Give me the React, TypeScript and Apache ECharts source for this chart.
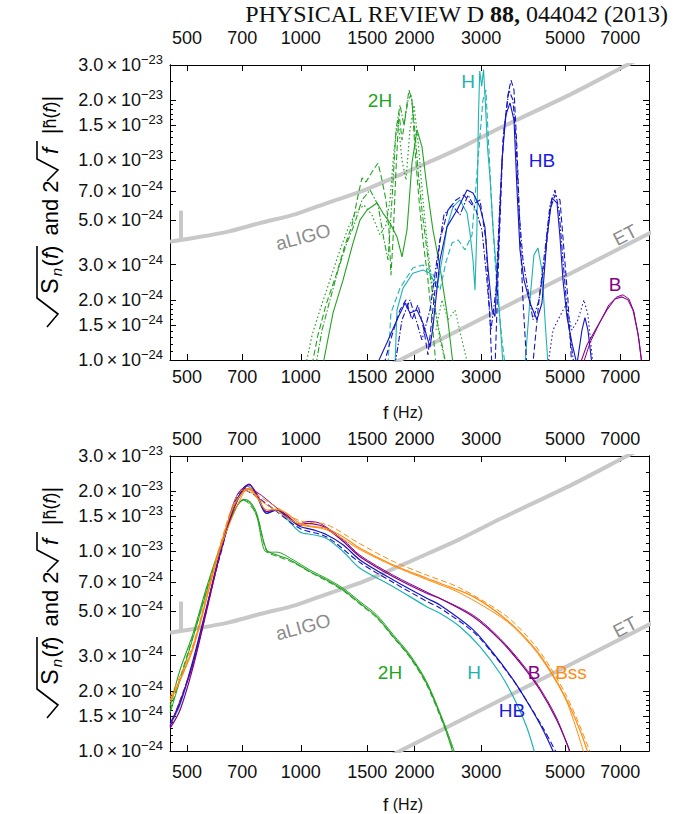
import React, { useEffect, useRef } from "react";
import * as echarts from "echarts";

const SANS = "'Liberation Sans', Arial, Helvetica, sans-serif";
const SERIF = "'Liberation Serif', 'Times New Roman', serif";

// axis ticks (frequency in Hz, amplitude in units of 1e-24)
const X_TICKS = [500, 700, 1000, 1500, 2000, 3000, 5000, 7000];
const Y_TICKS = [1, 1.5, 2, 3, 5, 7, 10, 15, 20, 30];
const Y_MINOR = [1.1, 1.2, 1.3, 1.4, 1.6, 1.7, 1.8, 1.9, 2.5, 4, 6, 8, 9, 11, 12, 13, 14, 16, 17, 18, 19, 25];
const F_MIN = 450.8;
const F_MAX = 8342;
const A_MIN = 1;
const A_MAX = 30;

// detector noise curves
const ALIGO_F = [451, 519, 638, 780, 971, 1173, 1434, 1754, 2157, 2637, 3365, 5250, 7294, 8342];
const ALIGO_V = [3.91, 4.08, 4.38, 4.85, 5.38, 6.11, 6.94, 8.16, 9.69, 11.5, 14.5, 21.7, 30.0, 34.1];
const SPIKE_F = [482, 482];
const SPIKE_V = [3.97, 5.6];
const ET_F = [1500, 9000];
const ET_V = [0.826, 4.62];

// ---------- top panel ----------
const T_2H_A_F = [1145, 1217, 1294, 1375, 1434, 1497, 1591, 1650, 1722, 1797, 1853, 1910, 1969, 2030, 2092, 2156, 2237, 2335, 2437, 2528];
const T_2H_A_V = [0.95, 1.72, 2.52, 3.86, 5.02, 5.64, 6.11, 5.44, 4.85, 4.13, 3.28, 4.48, 9.69, 14.2, 11.7, 7.35, 4.48, 2.92, 1.72, 0.95];
const T_2H_B_F = [1071, 1110, 1166, 1240, 1310, 1367, 1418, 1452, 1488, 1543, 1601, 1640, 1680, 1711, 1732, 1754, 1786, 1819, 1853, 1887, 1933, 1969, 2005, 2055, 2105, 2170, 2224, 2278];
const T_2H_B_V = [0.95, 1.33, 1.89, 2.66, 3.77, 4.74, 6.70, 8.16, 7.78, 8.74, 9.69, 7.97, 6.33, 4.48, 2.66, 3.99, 8.94, 17.3, 12.6, 16.3, 22.5, 20.0, 11.3, 6.33, 3.99, 2.52, 1.59, 0.95];
const T_2H_C_F = [1032, 1071, 1124, 1195, 1270, 1334, 1401, 1470, 1543, 1620, 1680, 1722, 1765, 1808, 1853, 1898, 1945, 1993, 2042, 2105, 2170, 2251, 2335, 2422];
const T_2H_C_V = [0.95, 1.33, 1.78, 2.52, 3.56, 4.58, 5.51, 5.97, 5.32, 4.23, 4.74, 6.33, 11.3, 15.9, 10.0, 7.97, 14.2, 18.9, 12.6, 6.33, 3.56, 2.00, 1.26, 0.95];
const T_2H_D_F = [1097, 1138, 1195, 1255, 1318, 1384, 1452, 1525, 1601, 1660, 1701, 1743, 1786, 1830, 1875, 1922, 1957, 1993, 2042, 2092, 2156, 2224, 2292, 2364, 2422];
const T_2H_D_V = [0.95, 1.41, 2.00, 2.82, 3.77, 4.74, 6.33, 7.10, 5.97, 3.99, 3.17, 6.33, 14.2, 18.9, 15.0, 20.0, 21.2, 15.9, 8.94, 5.64, 3.56, 2.24, 1.59, 1.19, 0.95];
const T_2H_E_F = [2278, 2364, 2452, 2559, 2669, 2767];
const T_2H_E_V = [1.41, 2.00, 1.59, 1.78, 1.26, 0.95];

const T_H_A_F = [1776, 1797, 1864, 1979, 2105, 2197, 2292, 2364, 2437, 2528, 2637, 2753, 2803, 2855, 2890, 2925, 2950, 2975, 3010, 3045, 3080, 3120, 3166, 3224, 3304, 3365, 3427];
const T_H_A_V = [0.95, 1.78, 2.29, 2.72, 2.82, 2.72, 2.29, 3.17, 4.64, 5.84, 6.33, 5.44, 4.33, 3.17, 2.24, 4.64, 16.0, 28.0, 23.5, 28.5, 19.0, 11.5, 8.25, 4.64, 2.61, 1.59, 0.95];
const T_H_B_F = [1701, 1732, 1830, 1979, 2105, 2224, 2335, 2422, 2513, 2610, 2719, 2838, 2943, 3033, 3089, 3146, 3205, 3264, 3324, 3406, 3469];
const T_H_B_V = [0.95, 1.72, 2.29, 2.89, 2.99, 2.75, 2.24, 3.10, 3.86, 3.99, 3.56, 4.23, 10.0, 20.0, 22.5, 11.3, 5.64, 3.17, 2.00, 1.26, 0.95];
const T_H_C_F = [3919, 4040, 4139, 4241, 4346, 4427, 4509];
const T_H_C_V = [0.95, 2.00, 3.36, 3.64, 2.82, 1.59, 0.95];

const T_HB_A_F = [1591, 1690, 1797, 1887, 1945, 2030, 2105, 2197, 2237, 2335, 2437, 2591, 2753, 2855, 2979, 3070, 3127, 3205, 3264, 3324, 3406, 3490, 3577, 3665, 3733, 3801, 3895, 4040, 4215, 4346, 4481, 4620, 4763, 4850, 4939, 5060, 5216, 5378, 5545, 5647, 5751, 5893];
const T_HB_A_V = [0.95, 1.22, 1.59, 1.93, 1.72, 1.78, 1.53, 1.16, 1.46, 3.17, 4.64, 5.64, 7.10, 6.86, 5.84, 4.64, 2.92, 1.78, 1.65, 3.17, 10.0, 16.9, 19.4, 15.9, 7.10, 3.56, 2.52, 1.93, 1.59, 1.93, 4.13, 6.48, 6.11, 4.13, 2.52, 1.65, 1.22, 0.95, 1.41, 1.63, 1.41, 0.95];
const T_HB_B_F = [1660, 1743, 1830, 1898, 1969, 2042, 2118, 2170, 2251, 2335, 2452, 2575, 2702, 2838, 2979, 3089, 3166, 3205, 3264, 3344, 3427, 3533, 3599, 3665, 3733, 3801, 3871, 3967, 4100, 4268, 4427, 4564, 4705, 4850, 4969, 5091, 5216];
const T_HB_B_V = [0.95, 1.33, 1.78, 2.00, 1.59, 1.89, 1.41, 1.06, 2.00, 3.99, 5.64, 6.33, 6.70, 5.97, 6.33, 3.99, 1.59, 0.9, 0.9, 3.56, 12.6, 21.2, 25.2, 22.5, 11.3, 4.48, 2.00, 0.9, 0.9, 2.00, 3.17, 5.64, 6.70, 6.33, 3.56, 2.00, 0.9];
const T_HB_C_F = [1776, 1853, 1945, 2018, 2092, 2197, 2292, 2392, 2513, 2637, 2770, 2907, 3015, 3108, 3185, 3284, 3365, 3448, 3555, 3643, 3710, 3778, 3871, 3991, 4114, 4268, 4427, 4564, 4705, 4821, 4939, 5091, 5280];
const T_HB_C_V = [0.95, 1.59, 2.00, 1.59, 1.26, 1.78, 3.17, 5.32, 5.97, 5.32, 6.70, 5.64, 4.48, 2.52, 1.41, 2.24, 6.33, 14.2, 22.5, 20.0, 12.6, 5.64, 3.17, 2.24, 1.59, 2.00, 3.56, 5.97, 7.10, 5.64, 3.17, 1.59, 0.95];
const T_HB_D_F = [4509, 4648, 4792, 5030, 5216, 5411, 5613, 5751, 5929];
const T_HB_D_V = [0.95, 1.41, 1.59, 1.89, 1.41, 1.59, 2.00, 1.68, 0.95];

const T_B_A_F = [5478, 5716, 6075, 6455, 6777, 7075, 7339, 7566, 7800, 7991];
const T_B_A_V = [0.95, 1.19, 1.46, 1.78, 2.02, 2.07, 2.00, 1.78, 1.36, 0.95];
const T_B_B_F = [5579, 5822, 6188, 6534, 6860, 7119, 7384, 7612, 7848, 7991];
const T_B_B_V = [0.95, 1.22, 1.55, 1.89, 2.07, 2.12, 2.02, 1.74, 1.26, 0.95];

// ---------- bottom panel ----------
const B_BSS_F = [451, 479, 519, 564, 612, 663, 705, 730, 764, 812, 864, 917, 995, 1080, 1171, 1296, 1434, 1757, 2153, 2335, 2860, 3507, 4122, 4564, 5052, 5478, 5762];
const B_BSS_V = [1.80, 2.27, 3.33, 5.93, 10.55, 16.7, 19.9, 20.7, 18.8, 16.1, 16.2, 15.5, 13.8, 13.3, 13.0, 11.8, 10.35, 8.54, 7.33, 6.92, 5.93, 4.53, 3.33, 2.54, 1.80, 1.27, 0.97];
const B_BSS2_F = [451, 519, 612, 705, 764, 864, 995, 1171, 1434, 1757, 2153, 2637, 3507, 4122, 4564, 5052, 5478, 5850];
const B_BSS2_V = [1.86, 3.42, 10.8, 20.3, 19.1, 16.6, 14.2, 13.6, 10.9, 8.9, 7.6, 6.55, 4.72, 3.46, 2.64, 1.88, 1.33, 0.97];
const B_BSS3_F = [451, 519, 612, 705, 730, 764, 864, 995, 1171, 1434, 1757, 2153, 2637, 3507, 4122, 4564, 5052, 5620];
const B_BSS3_V = [1.75, 3.25, 10.3, 19.6, 20.4, 18.5, 15.9, 13.6, 12.8, 10.2, 8.45, 7.22, 6.18, 4.46, 3.28, 2.50, 1.77, 0.97];

const B_B_F = [451, 479, 519, 564, 612, 663, 705, 730, 764, 812, 864, 917, 995, 1037, 1124, 1171, 1296, 1434, 1757, 2153, 2335, 2860, 3365, 3879, 4294, 4754, 5101, 5160];
const B_B_V = [1.30, 1.60, 2.64, 5.08, 9.77, 16.1, 20.3, 21.5, 19.5, 15.8, 16.2, 15.2, 13.5, 13.8, 13.5, 13.0, 11.2, 9.40, 7.46, 6.16, 5.80, 4.70, 3.60, 2.64, 2.02, 1.43, 1.05, 0.97];
const B_B2_F = [451, 519, 612, 705, 764, 864, 995, 1037, 1124, 1296, 1434, 1757, 2153, 2860, 3365, 3879, 4294, 4754, 5160];
const B_B2_V = [1.34, 2.72, 9.95, 20.6, 19.8, 16.5, 13.7, 14.1, 13.8, 11.4, 9.55, 7.58, 6.25, 4.78, 3.66, 2.69, 2.06, 1.46, 0.98];

const B_HB_F = [451, 479, 519, 564, 612, 663, 705, 730, 764, 812, 864, 917, 995, 1080, 1171, 1296, 1434, 1757, 2153, 2335, 2860, 3231, 3649, 4040, 4380, 4680];
const B_HB_V = [1.38, 1.73, 2.86, 5.28, 9.77, 16.4, 20.7, 21.7, 19.1, 15.5, 16.1, 14.9, 13.3, 12.8, 12.1, 10.75, 9.05, 7.18, 5.82, 5.38, 4.04, 3.09, 2.27, 1.67, 1.27, 0.97];
const B_HB2_F = [451, 519, 612, 705, 764, 864, 995, 1171, 1434, 1757, 2153, 2335, 2860, 3231, 3649, 4040, 4380, 4760];
const B_HB2_V = [1.32, 2.76, 9.5, 20.4, 18.8, 15.8, 13.0, 11.8, 8.78, 6.98, 5.62, 5.2, 3.95, 3.05, 2.26, 1.68, 1.30, 0.97];

const B_H_F = [451, 479, 519, 564, 612, 663, 705, 722, 764, 812, 864, 917, 995, 1080, 1171, 1296, 1434, 1757, 2153, 2335, 2637, 2979, 3365, 3649, 3960, 4165];
const B_H_V = [1.35, 1.70, 2.80, 5.28, 9.77, 16.4, 20.7, 21.2, 19.1, 15.5, 16.1, 14.6, 12.5, 12.1, 11.6, 9.95, 8.22, 6.65, 5.28, 4.89, 4.19, 3.33, 2.45, 1.87, 1.32, 0.97];

const B_2H_F = [451, 479, 519, 564, 612, 663, 705, 734, 764, 812, 864, 917, 955, 1058, 1171, 1296, 1434, 1588, 1757, 1945, 2153, 2383, 2532];
const B_2H_V = [1.67, 2.54, 3.88, 6.65, 10.55, 15.5, 18.2, 17.7, 15.5, 10.15, 9.58, 9.22, 8.87, 7.91, 7.18, 6.40, 5.49, 4.70, 3.74, 2.97, 2.18, 1.38, 0.97];
const B_2H2_F = [451, 519, 612, 705, 734, 764, 812, 864, 955, 1058, 1171, 1296, 1434, 1588, 1757, 1945, 2153, 2383, 2560];
const B_2H2_V = [1.55, 3.70, 10.2, 18.0, 17.4, 15.0, 9.9, 9.9, 9.05, 8.05, 7.30, 6.52, 5.60, 4.80, 3.82, 3.03, 2.22, 1.41, 0.97];
const B_2H3_F = [451, 519, 612, 705, 764, 812, 864, 955, 1058, 1171, 1296, 1434, 1588, 1757, 1945, 2153, 2383, 2550];
const B_2H3_V = [1.60, 3.78, 10.4, 18.1, 15.2, 10.0, 9.45, 8.78, 7.85, 7.10, 6.33, 5.43, 4.64, 3.70, 2.93, 2.14, 1.36, 0.97];

// colours
const GREEN = "#22a322";
const CYAN = "#1fb2b2";
const BLUE = "#1414c8";
const PURPLE = "#880088";
const ORANGE = "#ff8c10";
const GRAY = "#c8c8c8";

const DASH = [6, 3];
const DOT = [1.5, 2.5];
const DASHDOT = [6, 2, 1.5, 2];

const L = Math.log10;
const pairs = (F: number[], V: number[]) => F.map((f, i) => [L(f), L(V[i])]);

function line(F: number[], V: number[], color: string, width: number, dash: any, g: number, extra: any = {}) {
  return {
    type: "line",
    xAxisIndex: g * 2,
    yAxisIndex: g * 4,
    data: pairs(F, V),
    showSymbol: false,
    symbol: "none",
    silent: true,
    clip: true,
    z: 3,
    lineStyle: { color, width, type: dash },
    ...extra,
  };
}

const fmtY = (v: number) => {
  const a = Math.pow(10, v);
  let m = a;
  let e = "\u221224";
  if (a > 9.99) {
    m = a / 10;
    e = "\u221223";
  }
  return `{m|${m.toFixed(1)}\u2009\u00d7\u200910}{e|${e}}`;
};

function xAxes(g: number, bottomMargin: number, topMargin: number) {
  const common = {
    gridIndex: g,
    type: "value",
    min: L(F_MIN),
    max: L(F_MAX),
    splitLine: { show: false },
    axisLine: { show: true, onZero: false, lineStyle: { color: "#000", width: 1 } },
    axisTick: { show: true, inside: true, length: 6, customValues: X_TICKS.map(L), lineStyle: { color: "#000", width: 1 } },
  };
  const label = (margin: number) => ({
    show: true,
    customValues: X_TICKS.map(L),
    formatter: (v: number) => String(Math.round(Math.pow(10, v))),
    fontSize: 18,
    fontFamily: SANS,
    color: "#111",
    margin,
  });
  return [
    { ...common, position: "bottom", axisLabel: label(bottomMargin) },
    { ...common, position: "top", axisLabel: label(topMargin) },
  ];
}

function yAxes(g: number) {
  const common = {
    gridIndex: g,
    type: "value",
    min: L(A_MIN),
    max: L(A_MAX),
    splitLine: { show: false },
    axisLine: { show: true, onZero: false, lineStyle: { color: "#000", width: 1 } },
  };
  const major = { show: true, inside: true, length: 6, customValues: Y_TICKS.map(L), lineStyle: { color: "#000", width: 1 } };
  const minor = { show: true, inside: true, length: 3, customValues: Y_MINOR.map(L), lineStyle: { color: "#000", width: 1 } };
  return [
    {
      ...common,
      position: "left",
      axisTick: major,
      axisLabel: {
        show: true,
        customValues: Y_TICKS.map(L),
        formatter: fmtY,
        margin: 7,
        color: "#111",
        rich: {
          m: { fontSize: 18, fontFamily: SANS, color: "#111", lineHeight: 24 },
          e: { fontSize: 13, fontFamily: SANS, color: "#111", lineHeight: 13, verticalAlign: "top" },
        },
      },
    },
    { ...common, position: "right", axisTick: major, axisLabel: { show: false } },
    { ...common, position: "left", axisTick: minor, axisLabel: { show: false } },
    { ...common, position: "right", axisTick: minor, axisLabel: { show: false } },
  ];
}

function label(text: string, x: number, y: number, color: string, size = 19, rotationDeg = 0) {
  return {
    type: "text",
    x,
    y,
    rotation: (rotationDeg * Math.PI) / 180,
    z: 10,
    style: { text, fill: color, font: `${size}px ${SANS}`, align: "center", verticalAlign: "middle" },
  };
}

// rotated piece of the y-axis title
function rt(x: number, y: number, text: string, rich: any) {
  return {
    type: "text",
    x,
    y,
    rotation: Math.PI / 2,
    z: 10,
    style: { text, rich, fill: "#000", align: "center", verticalAlign: "middle" },
  };
}

function yTitle(dy: number) {
  const up = { fontSize: 22, fontFamily: SANS, fill: "#000" };
  const it = { fontSize: 22, fontFamily: SANS, fontStyle: "italic", fill: "#000" };
  const sm = { fontSize: 18, fontFamily: SANS, fill: "#000" };
  const smi = { fontSize: 18, fontFamily: SANS, fontStyle: "italic", fill: "#000" };
  return {
    type: "group",
    children: [
      {
        type: "polyline",
        z: 10,
        shape: { points: [[47, 327 + dy], [58, 314 + dy], [37, 298 + dy], [37, 246 + dy]] },
        style: { stroke: "#000", lineWidth: 1.6, fill: null },
      },
      rt(50, 286 + dy, "{u|S}", { u: { ...up, fontSize: 23 } }),
      rt(56, 272 + dy, "{s|n}", { s: { ...it, fontSize: 15 } }),
      rt(50, 256 + dy, "{u|(}{i|f}{u|)}", { u: up, i: it }),
      rt(50, 208 + dy, "{u|and 2}", { u: up }),
      {
        type: "polyline",
        z: 10,
        shape: { points: [[47, 181 + dy], [58, 170 + dy], [37, 159 + dy], [37, 141 + dy]] },
        style: { stroke: "#000", lineWidth: 1.6, fill: null },
      },
      rt(50, 151 + dy, "{i|f}", { i: it }),
      rt(50, 115 + dy, "{b||}{h|h\u0303(}{hi|f}{h|)}{b||}", { b: up, h: sm, hi: smi }),
    ],
  };
}

function fHz(y: number) {
  return {
    type: "text",
    x: 403,
    y,
    z: 10,
    style: {
      text: "{f|f}{h| (Hz)}",
      align: "center",
      verticalAlign: "middle",
      rich: {
        f: { fontSize: 19, fontFamily: SANS, fill: "#111" },
        h: { fontSize: 16, fontFamily: SANS, fill: "#111" },
      },
    },
  };
}

export default function App() {
  const ref = useRef<HTMLDivElement>(null);
  useEffect(() => {
    if (!ref.current) return;
    const chart = echarts.init(ref.current, undefined, { renderer: "svg" });
    const series: any[] = [];
    for (const g of [0, 1]) {
      series.push(line(ALIGO_F, ALIGO_V, GRAY, 4, "solid", g, { smooth: 0.3, z: 2 }));
      series.push(line(SPIKE_F, SPIKE_V, GRAY, 4, "solid", g, { z: 2 }));
      series.push(line(ET_F, ET_V, GRAY, 4, "solid", g, { z: 2 }));
    }
    // top panel
    series.push(line(T_2H_A_F, T_2H_A_V, GREEN, 1.1, "solid", 0));
    series.push(line(T_2H_B_F, T_2H_B_V, GREEN, 1.1, DASH, 0));
    series.push(line(T_2H_C_F, T_2H_C_V, GREEN, 1.2, DOT, 0));
    series.push(line(T_2H_D_F, T_2H_D_V, GREEN, 1.1, DASHDOT, 0));
    series.push(line(T_2H_E_F, T_2H_E_V, GREEN, 1.1, DOT, 0));
    series.push(line(T_H_A_F, T_H_A_V, CYAN, 1.1, "solid", 0));
    series.push(line(T_H_B_F, T_H_B_V, CYAN, 1.1, DASH, 0));
    series.push(line(T_H_C_F, T_H_C_V, CYAN, 1.1, "solid", 0));
    series.push(line(T_HB_A_F, T_HB_A_V, BLUE, 1.1, "solid", 0));
    series.push(line(T_HB_B_F, T_HB_B_V, BLUE, 1.1, DASH, 0));
    series.push(line(T_HB_C_F, T_HB_C_V, BLUE, 1.1, DASHDOT, 0));
    series.push(line(T_HB_D_F, T_HB_D_V, BLUE, 1.1, DOT, 0));
    series.push(line(T_B_A_F, T_B_A_V, PURPLE, 1.1, "solid", 0));
    series.push(line(T_B_B_F, T_B_B_V, PURPLE, 1.0, "solid", 0));
    // bottom panel
    series.push(line(B_2H_F, B_2H_V, GREEN, 1.1, "solid", 1, { smooth: 0.3 }));
    series.push(line(B_2H2_F, B_2H2_V, GREEN, 1.0, "solid", 1, { smooth: 0.3 }));
    series.push(line(B_2H3_F, B_2H3_V, GREEN, 1.0, DASH, 1, { smooth: 0.3 }));
    series.push(line(B_H_F, B_H_V, CYAN, 1.2, "solid", 1, { smooth: 0.3 }));
    series.push(line(B_HB_F, B_HB_V, BLUE, 1.2, "solid", 1, { smooth: 0.3 }));
    series.push(line(B_HB2_F, B_HB2_V, BLUE, 1.1, DASH, 1, { smooth: 0.3 }));
    series.push(line(B_B_F, B_B_V, PURPLE, 1.2, "solid", 1, { smooth: 0.3 }));
    series.push(line(B_B2_F, B_B2_V, PURPLE, 1.0, "solid", 1, { smooth: 0.3 }));
    series.push(line(B_BSS_F, B_BSS_V, ORANGE, 1.2, "solid", 1, { smooth: 0.3 }));
    series.push(line(B_BSS2_F, B_BSS2_V, ORANGE, 1.0, DASH, 1, { smooth: 0.3 }));
    series.push(line(B_BSS3_F, B_BSS3_V, ORANGE, 1.0, "solid", 1, { smooth: 0.3 }));

    const option: any = {
      animation: false,
      backgroundColor: "#fff",
      grid: [
        { left: 170, top: 65, width: 479, height: 295, containLabel: false },
        { left: 170, top: 456, width: 479, height: 295, containLabel: false },
      ],
      xAxis: [...xAxes(0, 8, 18), ...xAxes(1, 12, 8)],
      yAxis: [...yAxes(0), ...yAxes(1)],
      series,
      graphic: [
        {
          type: "text",
          x: 668,
          y: 14,
          z: 10,
          style: {
            text: "{n|PHYSICAL REVIEW D }{b|88,}{n| 044042 (2013)}",
            align: "right",
            verticalAlign: "middle",
            rich: {
              n: { fontSize: 24, fontFamily: SERIF, fill: "#111", lineHeight: 24 },
              b: { fontSize: 24, fontFamily: SERIF, fontWeight: "bold", fill: "#111", lineHeight: 24 },
            },
          },
        },
        fHz(412),
        fHz(804),
        yTitle(0),
        yTitle(391),
        label("aLIGO", 303, 237, "#8c8c8c", 19, 15),
        label("ET", 625, 235, "#8c8c8c", 19, 27),
        label("aLIGO", 303, 627, "#8c8c8c", 19, 15),
        label("ET", 625, 627, "#8c8c8c", 19, 27),
        label("2H", 380, 100, GREEN),
        label("H", 468, 81, CYAN),
        label("HB", 542, 160, "#1a1ae6"),
        label("B", 615, 284, PURPLE),
        label("2H", 390, 672, GREEN),
        label("H", 474, 672, CYAN),
        label("B", 534, 672, PURPLE),
        label("Bss", 571, 672, ORANGE),
        label("HB", 512, 710, "#1a1ae6"),
      ],
    };
    chart.setOption(option);
    return () => chart.dispose();
  }, []);
  return (
    <div
      ref={ref}
      style={{ position: "fixed", left: 0, top: 0, width: 683, height: 814, background: "#fff" }}
    />
  );
}
